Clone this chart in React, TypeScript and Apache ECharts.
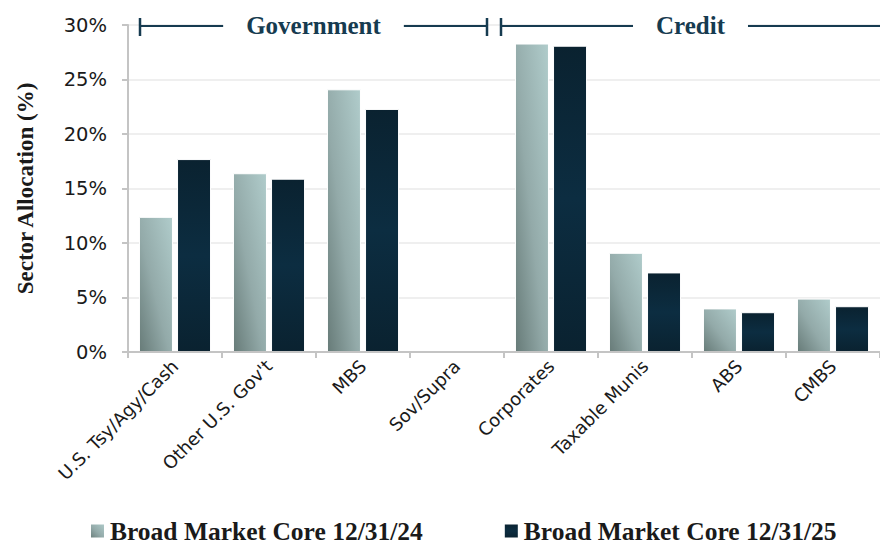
import React, { useEffect, useRef } from 'react';
import * as echarts from 'echarts';

const categories = ['U.S. Tsy/Agy/Cash', "Other U.S. Gov't", 'MBS', 'Sov/Supra', 'Corporates', 'Taxable Munis', 'ABS', 'CMBS'];
const core2024 = [12.4, 16.4, 24.1, 0, 28.3, 9.1, 4.0, 4.9];
const core2025 = [17.7, 15.9, 22.3, 0, 28.1, 7.3, 3.65, 4.2];
const seriesNames = ['Broad Market Core 12/31/24', 'Broad Market Core 12/31/25'];
const yMin = 0;
const yMax = 30;
const yInterval = 5;
const groups = [
  { name: 'Government', from: 0, to: 3 },
  { name: 'Credit', from: 4, to: 7 },
];

const NAVY = '#163b50';
const SERIF = '"Liberation Serif", "DejaVu Serif", serif';
const SANS = '"DejaVu Sans", "Noto Sans", sans-serif';

const lightGrad = new echarts.graphic.LinearGradient(1, 0, 0, 1, [
  { offset: 0, color: '#b0cccb' },
  { offset: 0.55, color: '#93aaa9' },
  { offset: 1, color: '#677b78' },
]);
const darkGrad = new echarts.graphic.LinearGradient(0, 0, 0, 1, [
  { offset: 0, color: '#0a2230' },
  { offset: 0.5, color: '#0c2d41' },
  { offset: 1, color: '#0a2230' },
]);

export default function App() {
  const ref = useRef<HTMLDivElement>(null);
  useEffect(() => {
    if (!ref.current) return;
    const chart = echarts.init(ref.current, undefined, { renderer: 'svg' });
    chart.setOption({
      animation: false,
      backgroundColor: '#ffffff',
      grid: { left: 128, right: -4, top: 25, bottom: 192, containLabel: false },
      legend: {
        left: 84,
        top: 513,
        itemWidth: 15,
        itemHeight: 15,
        itemGap: 80,
        icon: 'rect',
        data: seriesNames,
        textStyle: { fontFamily: SERIF, fontWeight: 'bold', fontSize: 25.5, color: '#1a1a1a', padding: [0, 0, 0, 0] },
      },
      xAxis: {
        type: 'category',
        data: categories,
        z: 5,
        axisLine: { lineStyle: { color: '#c4c4c4', width: 2 } },
        axisTick: { show: true, length: 6, lineStyle: { color: '#c4c4c4', width: 2 } },
        axisLabel: { rotate: 45, fontFamily: SANS, fontSize: 18, color: '#1a1a1a', margin: 11, interval: 0 },
      },
      yAxis: {
        type: 'value',
        min: yMin,
        max: yMax,
        interval: yInterval,
        name: 'Sector Allocation (%)',
        nameLocation: 'middle',
        nameGap: 91,
        nameRotate: 90,
        nameTextStyle: { fontFamily: SERIF, fontWeight: 'bold', fontSize: 23, color: '#1a1a1a' },
        axisLine: { show: true, lineStyle: { color: '#c4c4c4', width: 2 } },
        axisTick: { show: true, length: 6, lineStyle: { color: '#c4c4c4', width: 2 } },
        axisLabel: { formatter: '{value}%', fontFamily: SANS, fontSize: 19.5, color: '#1a1a1a', margin: 21 },
        splitLine: { lineStyle: { color: '#efefef', width: 2 } },
      },
      series: [
        {
          name: seriesNames[0],
          type: 'bar',
          data: core2024,
          barWidth: 34,
          barGap: '12%',
          itemStyle: { color: lightGrad, borderColor: '#ffffff', borderWidth: 1 },
        },
        {
          name: seriesNames[1],
          type: 'bar',
          data: core2025,
          barWidth: 34,
          itemStyle: { color: darkGrad, borderColor: '#ffffff', borderWidth: 1 },
        },
      ],
    });

    const cx = (i: number) => chart.convertToPixel({ xAxisIndex: 0 }, i) as number;
    const catW = cx(1) - cx(0);
    const yLine = 26;
    const lineStyle = { stroke: NAVY, lineWidth: 2 };
    const graphics: any[] = [];
    const W = chart.getWidth();
    groups.forEach((g, gi) => {
      const leftB = cx(g.from) - catW / 2;
      const rightB = cx(g.to) + catW / 2;
      const x1 = gi === 0 ? leftB + 12 : leftB - 3;
      const x2 = gi === groups.length - 1 ? W : rightB - 17;
      graphics.push({ type: 'line', shape: { x1, y1: yLine, x2, y2: yLine }, style: lineStyle, z: 10 });
      graphics.push({ type: 'line', shape: { x1, y1: yLine - 8, x2: x1, y2: yLine + 10 }, style: { stroke: NAVY, lineWidth: 2.5 }, z: 10 });
      if (gi < groups.length - 1) {
        graphics.push({ type: 'line', shape: { x1: x2, y1: yLine - 8, x2: x2, y2: yLine + 10 }, style: { stroke: NAVY, lineWidth: 2.5 }, z: 10 });
      }
      graphics.push({
        type: 'text',
        x: (x1 + x2) / 2,
        y: yLine - 1,
        z: 11,
        style: {
          text: g.name,
          fill: NAVY,
          font: `bold 25px ${SERIF}`,
          align: 'center',
          verticalAlign: 'middle',
          backgroundColor: '#ffffff',
          padding: [2, 23, 2, 23],
        },
      });
    });
    chart.setOption({ graphic: graphics });
    return () => chart.dispose();
  }, []);
  return <div ref={ref} style={{ width: 880, height: 544, position: 'absolute', left: 0, top: 0 }} />;
}
